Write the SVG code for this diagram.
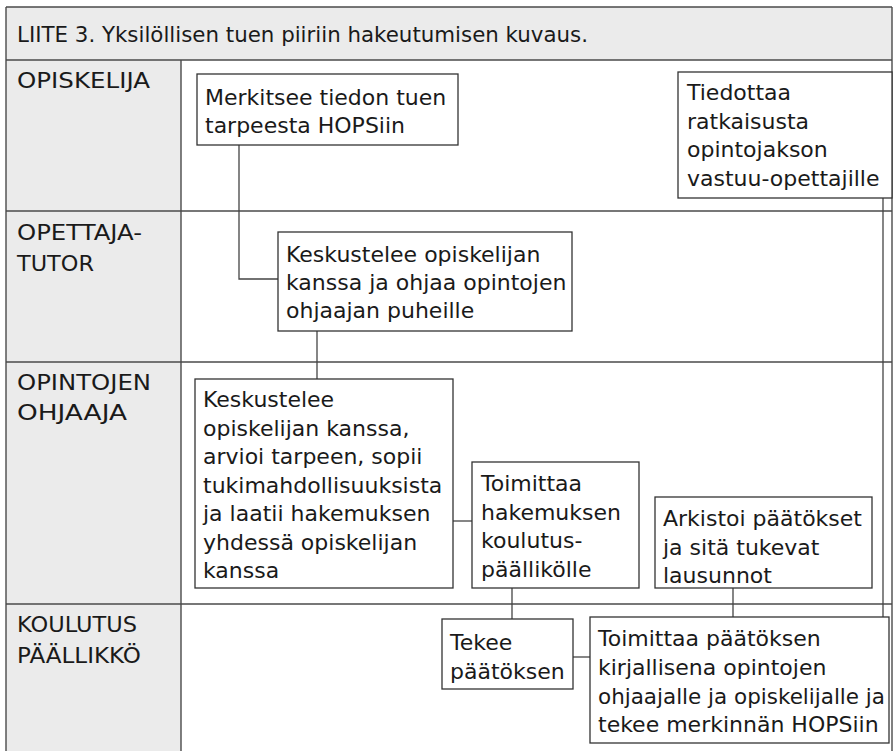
<svg xmlns="http://www.w3.org/2000/svg" width="894" height="751" viewBox="0 0 894 751">
<style>
.grid{stroke:#4a4a4a;stroke-width:1.4;fill:none}
.bg{fill:#ebebeb}
.box{fill:#ffffff;stroke:#333333;stroke-width:1.3}
.conn{stroke:#444444;stroke-width:1.3;fill:none}
text{font-family:"DejaVu Sans","Liberation Sans",sans-serif;font-size:22px;fill:#1a1a1a}
.lbl{font-size:21.5px}
</style>
<rect width="894" height="751" fill="#ffffff"/>
<g id="table">
<rect class="bg" x="6" y="7" width="886" height="53"/>
<rect class="bg" x="6" y="60" width="175" height="700"/>
<line class="grid" x1="6" y1="7" x2="892" y2="7"/>
<line class="grid" x1="6" y1="7" x2="6" y2="760"/>
<line class="grid" x1="892" y1="7" x2="892" y2="760"/>
<line class="grid" x1="6" y1="60" x2="892" y2="60"/>
<line class="grid" x1="6" y1="211" x2="892" y2="211"/>
<line class="grid" x1="6" y1="362" x2="892" y2="362"/>
<line class="grid" x1="6" y1="604" x2="892" y2="604"/>
<line class="grid" x1="181" y1="60" x2="181" y2="760"/>
<text class="lbl" x="17" y="42" textLength="571" lengthAdjust="spacingAndGlyphs">LIITE 3. Yksilöllisen tuen piiriin hakeutumisen kuvaus.</text>
<text class="lbl" x="17" y="88" textLength="133" lengthAdjust="spacingAndGlyphs">OPISKELIJA</text>
<text class="lbl" x="17" y="240" textLength="125" lengthAdjust="spacingAndGlyphs">OPETTAJA-</text>
<text class="lbl" x="17" y="271" textLength="77" lengthAdjust="spacingAndGlyphs">TUTOR</text>
<text class="lbl" x="17" y="390" textLength="134" lengthAdjust="spacingAndGlyphs">OPINTOJEN</text>
<text class="lbl" x="17" y="420" textLength="110" lengthAdjust="spacingAndGlyphs">OHJAAJA</text>
<text class="lbl" x="17" y="632" textLength="120" lengthAdjust="spacingAndGlyphs">KOULUTUS</text>
<text class="lbl" x="17" y="663" textLength="124" lengthAdjust="spacingAndGlyphs">PÄÄLLIKKÖ</text>
</g>
<g id="connectors">
<polyline class="conn" points="239,145 239,279 278,279"/>
<line class="conn" x1="317" y1="331" x2="317" y2="379"/>
<line class="conn" x1="453" y1="521" x2="472" y2="521"/>
<line class="conn" x1="512" y1="588" x2="512" y2="619"/>
<line class="conn" x1="573" y1="657" x2="590" y2="657"/>
<line class="conn" x1="733" y1="588" x2="733" y2="617"/>
<line class="conn" x1="883" y1="198" x2="883" y2="617"/>
</g>
<g id="n1">
<rect class="box" x="197" y="74" width="261" height="71"/>
<text x="205" y="105">Merkitsee tiedon tuen</text>
<text x="205" y="133">tarpeesta HOPSiin</text>
</g>
<g id="n7">
<rect class="box" x="678" y="72" width="214" height="126"/>
<text x="687" y="100">Tiedottaa</text>
<text x="687" y="128.5">ratkaisusta</text>
<text x="687" y="157">opintojakson</text>
<text x="687" y="185.5">vastuu-opettajille</text>
</g>
<g id="n2">
<rect class="box" x="278" y="232" width="294" height="99"/>
<text x="286" y="262">Keskustelee opiskelijan</text>
<text x="286" y="290">kanssa ja ohjaa opintojen</text>
<text x="286" y="318">ohjaajan puheille</text>
</g>
<g id="n3">
<rect class="box" x="195" y="379" width="258" height="209"/>
<text x="203" y="407">Keskustelee</text>
<text x="203" y="435.5">opiskelijan kanssa,</text>
<text x="203" y="464">arvioi tarpeen, sopii</text>
<text x="203" y="492.5">tukimahdollisuuksista</text>
<text x="203" y="521">ja laatii hakemuksen</text>
<text x="203" y="549.5">yhdessä opiskelijan</text>
<text x="203" y="578">kanssa</text>
</g>
<g id="n4">
<rect class="box" x="472" y="462" width="167" height="126"/>
<text x="481" y="491">Toimittaa</text>
<text x="481" y="519.5">hakemuksen</text>
<text x="481" y="548">koulutus-</text>
<text x="481" y="576.5">päällikölle</text>
</g>
<g id="n8">
<rect class="box" x="655" y="497" width="217" height="91"/>
<text x="663" y="526">Arkistoi päätökset</text>
<text x="663" y="554.5">ja sitä tukevat</text>
<text x="663" y="583">lausunnot</text>
</g>
<g id="n5">
<rect class="box" x="442" y="619" width="131" height="70"/>
<text x="450" y="650">Tekee</text>
<text x="450" y="679">päätöksen</text>
</g>
<g id="n6">
<rect class="box" x="590" y="617" width="299" height="126"/>
<text x="598" y="646">Toimittaa päätöksen</text>
<text x="598" y="675">kirjallisena opintojen</text>
<text x="598" y="704" textLength="287" lengthAdjust="spacingAndGlyphs">ohjaajalle ja opiskelijalle ja</text>
<text x="598" y="732">tekee merkinnän HOPSiin</text>
</g>
</svg>
